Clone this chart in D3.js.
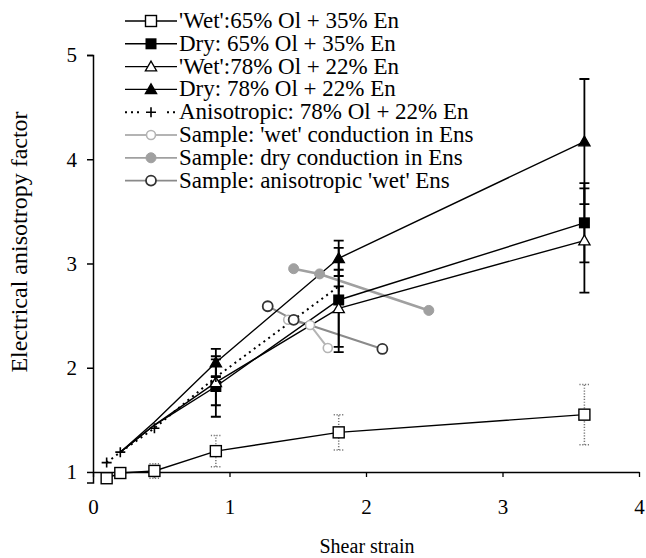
<!DOCTYPE html>
<html><head><meta charset="utf-8">
<script src="https://cdn.jsdelivr.net/npm/d3@7"></script>
<style>
body{margin:0;background:#fff;}
svg text{fill:#000;}
</style></head>
<body><svg id="c" width="646" height="558"></svg>
<script>
// ---- data ----
const xTicks = [0, 1, 2, 3, 4];
const yTicks = [1, 2, 3, 4, 5];
const seriesNames = [
  "'Wet':65% Ol + 35% En",
  "Dry: 65% Ol + 35% En",
  "'Wet':78% Ol + 22% En",
  "Dry: 78% Ol + 22% En",
  "Anisotropic: 78% Ol + 22% En",
  "Sample: 'wet' conduction in Ens",
  "Sample: dry conduction in Ens",
  "Sample: anisotropic 'wet' Ens"
];
const wet65X = [0.1, 0.2, 0.45, 0.9, 1.8, 3.6];
const wet65Y = [0.94, 0.99, 1.01, 1.2, 1.38, 1.55];
const wet65Err = [0, 0.04, 0.07, 0.15, 0.17, 0.29];
const dryX = [0.2, 0.45, 0.9, 1.8, 3.6];
const dry65Y = [1.19, 1.45, 1.82, 2.65, 3.39];
const dry65Err = [0, 0, 0.29, 0.5, 0.38];
const wet78Y = [1.19, 1.45, 1.86, 2.57, 3.22];
const wet78Err = [0, 0, 0.22, 0.37, 0.5];
const dry78Y = [1.19, 1.48, 2.05, 3.05, 4.17];
const dry78Err = [0, 0, 0.13, 0.17, 0.6];
const anisoX = [0.1, 0.2, 0.45, 0.9, 1.8];
const anisoY = [1.09, 1.19, 1.42, 1.91, 2.78];
const sWetX = [1.43, 1.59, 1.72];
const sWetY = [2.46, 2.41, 2.19];
const sDryX = [1.47, 1.66, 2.46];
const sDryY = [2.95, 2.9, 2.55];
const sAnisoX = [1.28, 1.47, 2.12];
const sAnisoY = [2.59, 2.46, 2.18];

// ---- setup ----
const FONT = '"Liberation Serif","Times New Roman",Times,"DejaVu Serif",serif';
const svg = d3.select("#c");
const x = d3.scaleLinear().domain([0, 4]).range([93, 639]);
const y = d3.scaleLinear().domain([0.9, 5]).range([482.4, 55]);
const zip = (xs, ys, es) => xs.map((v, i) => ({x: v, y: ys[i], e: es ? es[i] : 0}));

const styles = [
  {data: zip(wet65X, wet65Y, wet65Err), line: "#000", dash: null, lw: 1.4, marker: "sqOpen", errColor: "#777", errDash: "1.2,1.6", mFrom: 0},
  {data: zip(dryX, dry65Y, dry65Err), line: "#000", dash: null, lw: 1.4, marker: "sqFill", errColor: "#000", errDash: null, mFrom: 0.9},
  {data: zip(dryX, wet78Y, wet78Err), line: "#000", dash: null, lw: 1.4, marker: "triOpen", errColor: "#000", errDash: null, mFrom: 0.9},
  {data: zip(dryX, dry78Y, dry78Err), line: "#000", dash: null, lw: 1.4, marker: "triFill", errColor: "#000", errDash: null, mFrom: 0.9},
  {data: zip(anisoX, anisoY), line: "#000", dash: "2,4", lw: 2, marker: "plus", mFrom: 0},
  {data: zip(sWetX, sWetY), line: "#b4b4b4", dash: null, lw: 2, marker: "cirLight", mFrom: 0},
  {data: zip(sDryX, sDryY), line: "#a0a0a0", dash: null, lw: 2.6, marker: "cirGray", mFrom: 0},
  {data: zip(sAnisoX, sAnisoY), line: "#8a8a8a", dash: null, lw: 2, marker: "cirDark", mFrom: 0}
];

function drawMarker(g, type, cx, cy) {
  if (type === "sqOpen") g.append("rect").attr("x", cx-5.5).attr("y", cy-5.5).attr("width", 11).attr("height", 11).attr("fill", "#fff").attr("stroke", "#000").attr("stroke-width", 1.4);
  else if (type === "sqFill") g.append("rect").attr("x", cx-5.5).attr("y", cy-5.5).attr("width", 11).attr("height", 11).attr("fill", "#000");
  else if (type === "triOpen" || type === "triFill") {
    const p = d3.symbol().type(d3.symbolTriangle).size(55)();
    g.append("path").attr("d", p).attr("transform", `translate(${cx},${cy+1})`)
      .attr("fill", type === "triFill" ? "#000" : "#fff").attr("stroke", "#000").attr("stroke-width", 1.3);
  }
  else if (type === "plus") g.append("path").attr("d", `M${cx-5},${cy}H${cx+5}M${cx},${cy-5}V${cy+5}`).attr("stroke", "#000").attr("stroke-width", 1.6);
  else if (type === "cirLight") g.append("circle").attr("cx", cx).attr("cy", cy).attr("r", 4.5).attr("fill", "#fff").attr("stroke", "#b4b4b4").attr("stroke-width", 1.6);
  else if (type === "cirGray") g.append("circle").attr("cx", cx).attr("cy", cy).attr("r", 5).attr("fill", "#a0a0a0").attr("stroke", "#a0a0a0");
  else if (type === "cirDark") g.append("circle").attr("cx", cx).attr("cy", cy).attr("r", 5).attr("fill", "#fff").attr("stroke", "#333").attr("stroke-width", 1.8);
}

// ---- axes ----
const gy = svg.append("g").attr("transform", `translate(${x(0)},0)`)
  .call(d3.axisLeft(y).tickValues(yTicks).tickSize(6).tickSizeOuter(6).tickPadding(10).tickFormat(d3.format("d")));
gy.attr("font-family", FONT);
gy.select(".domain").attr("stroke", "#000").attr("stroke-width", 1.5);
gy.selectAll(".tick line").attr("stroke", "#000").attr("stroke-width", 1.5);
gy.selectAll(".tick text").attr("font-size", 21).attr("dy", "0.33em");

const gx = svg.append("g").attr("transform", `translate(0,${y(1)})`)
  .call(d3.axisBottom(x).tickValues(xTicks).tickSize(5).tickSizeOuter(0).tickPadding(22).tickFormat(d3.format("d")));
gx.attr("font-family", FONT);
gx.select(".domain").attr("stroke", "#000").attr("stroke-width", 1.5);
gx.selectAll(".tick line").attr("stroke", "#000").attr("stroke-width", 1.3);
gx.selectAll(".tick text").attr("font-size", 21);

svg.append("text").attr("transform", `translate(27,242) rotate(-90)`)
  .attr("text-anchor", "middle").attr("font-family", FONT).attr("font-size", 24).text("Electrical anisotropy factor");
svg.append("text").attr("x", 367).attr("y", 553).attr("text-anchor", "middle").attr("font-family", FONT).attr("font-size", 20).text("Shear strain");

// ---- plot ----
const plot = svg.append("g");
const lineGen = d3.line().x(d => x(d.x)).y(d => y(d.y));
const order = [5, 6, 7, 0, 1, 2, 3, 4];
order.forEach(i => {
  const s = styles[i];
  plot.append("path").datum(s.data).attr("d", lineGen).attr("fill", "none")
    .attr("stroke", s.line).attr("stroke-width", s.lw).attr("stroke-dasharray", s.dash);
});
styles.forEach(s => {
  s.data.filter(d => d.e > 0).forEach(d => {
    const cx = x(d.x), y0 = y(d.y - d.e), y1 = y(d.y + d.e);
    plot.append("path").attr("d", `M${cx},${y0}V${y1}M${cx-5},${y0}H${cx+5}M${cx-5},${y1}H${cx+5}`)
      .attr("stroke", s.errColor).attr("stroke-width", s.errDash ? 1.5 : 1.8).attr("stroke-dasharray", s.errDash).attr("fill", "none");
  });
});
order.forEach(i => {
  const s = styles[i];
  s.data.filter(d => d.x >= s.mFrom).forEach(d => drawMarker(plot, s.marker, x(d.x), y(d.y)));
});

// ---- legend ----
const leg = svg.append("g");
seriesNames.forEach((name, i) => {
  const s = styles[i];
  const cy = 21 + i * 22.8;
  leg.append("path").attr("d", `M125,${cy}H177`).attr("stroke", s.line).attr("stroke-width", i === 4 ? 2 : (i >= 5 ? 1.8 : 1.4)).attr("stroke-dasharray", s.dash);
  if (i === 4) leg.append("rect").attr("x", 140).attr("y", cy-6).attr("width", 24).attr("height", 12).attr("fill", "#fff");
  drawMarker(leg, s.marker, 151, cy);
  leg.append("text").attr("x", 179).attr("y", cy + 7).attr("font-family", FONT).attr("font-size", 23).text(name);
});
</script></body></html>
